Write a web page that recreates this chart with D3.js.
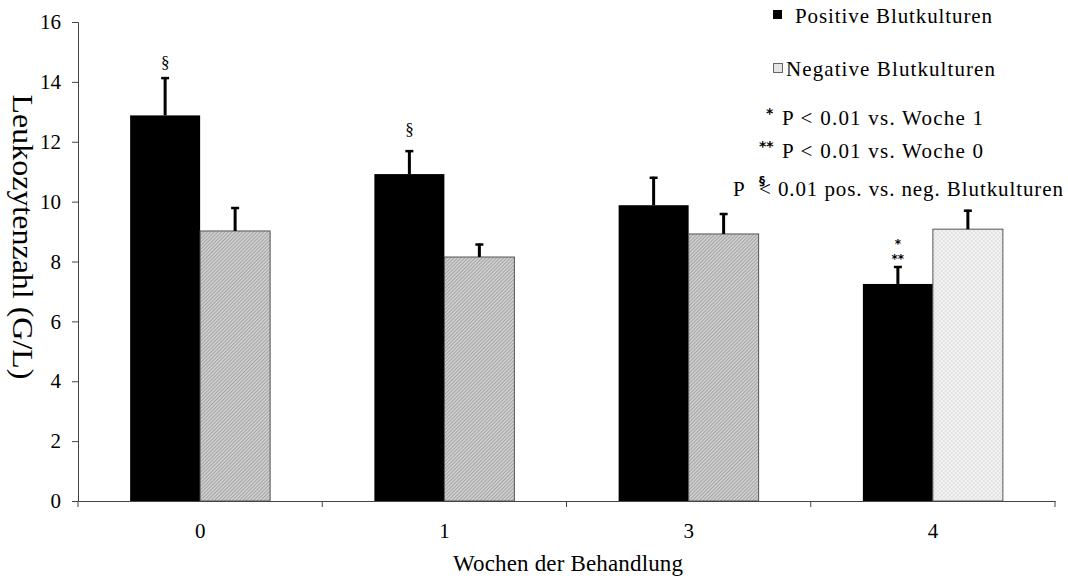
<!DOCTYPE html>
<html>
<head>
<meta charset="utf-8">
<script src="https://cdn.jsdelivr.net/npm/d3@7"></script>
<style>
  html, body { margin: 0; padding: 0; background: #fff; }
  svg { display: block; }
  text { font-family: "Liberation Serif", "Times New Roman", serif; fill: #000; }
</style>
</head>
<body>
<svg id="chart" width="1068" height="578"></svg>
<script>
// Weeks of treatment and leukocyte counts (G/L), mean and upper error
const weeks = ["0", "1", "3", "4"];
const positiveMean = [12.88, 10.92, 9.88, 7.25];
const positiveErr  = [1.28, 0.80, 0.95, 0.60];
const negativeMean = [9.02, 8.15, 8.92, 9.08];
const negativeErr  = [0.80, 0.45, 0.70, 0.65];
const yTicks = [0, 2, 4, 6, 8, 10, 12, 14, 16];
const seriesKeys = ["pos", "neg"];

const svg = d3.select("#chart");
const margin = { left: 78, right: 13, top: 22, bottom: 77 };
const W = 1068, H = 578;
const serif = '"Liberation Serif", "Times New Roman", serif';
const sans = '"DejaVu Sans", sans-serif';

const x = d3.scaleBand().domain(weeks).range([margin.left, W - margin.right]).padding(0);
const groupWidth = 140;
const xSub = d3.scaleBand().domain(seriesKeys)
  .range([(x.bandwidth() - groupWidth) / 2, (x.bandwidth() + groupWidth) / 2]).padding(0);
const y = d3.scaleLinear().domain([0, 16]).range([H - margin.bottom, margin.top]);

// fill patterns
const defs = svg.append("defs");
const hatch = defs.append("pattern").attr("id", "hatch")
  .attr("patternUnits", "userSpaceOnUse").attr("width", 2.5).attr("height", 2.5)
  .attr("patternTransform", "rotate(45)");
hatch.append("rect").attr("width", 2.5).attr("height", 2.5).attr("fill", "#d4d4d4");
hatch.append("rect").attr("width", 1).attr("height", 2.5).attr("fill", "#a0a0a0");

const dots = defs.append("pattern").attr("id", "dots")
  .attr("patternUnits", "userSpaceOnUse").attr("width", 4).attr("height", 4);
dots.append("rect").attr("width", 4).attr("height", 4).attr("fill", "#f3f3f3");
dots.append("rect").attr("width", 2).attr("height", 2).attr("fill", "#e2e2e2");
dots.append("rect").attr("x", 2).attr("y", 2).attr("width", 2).attr("height", 2).attr("fill", "#e2e2e2");

const rows = weeks.map((w, i) => ({
  week: w,
  values: [
    { key: "pos", mean: positiveMean[i], err: positiveErr[i] },
    { key: "neg", mean: negativeMean[i], err: negativeErr[i] }
  ]
}));

// bars
const groups = svg.append("g").selectAll("g").data(rows).join("g")
  .attr("transform", d => `translate(${x(d.week)},0)`);

groups.selectAll("rect.bar").data(d => d.values.map(v => ({ ...v, week: d.week }))).join("rect")
  .attr("class", "bar")
  .attr("x", d => xSub(d.key))
  .attr("width", xSub.bandwidth())
  .attr("y", d => y(d.mean))
  .attr("height", d => y(0) - y(d.mean))
  .attr("fill", d => d.key === "pos" ? "#000" : (d.week === "4" ? "url(#dots)" : "url(#hatch)"))
  .attr("stroke", d => d.key === "pos" ? "none" : "#555")
  .attr("stroke-width", 1);

// upper error bars
groups.selectAll("line.err").data(d => d.values).join("line")
  .attr("class", "err")
  .attr("x1", d => xSub(d.key) + xSub.bandwidth() / 2)
  .attr("x2", d => xSub(d.key) + xSub.bandwidth() / 2)
  .attr("y1", d => y(d.mean))
  .attr("y2", d => y(d.mean + d.err))
  .attr("stroke", "#000").attr("stroke-width", 3);
groups.selectAll("line.cap").data(d => d.values).join("line")
  .attr("class", "cap")
  .attr("x1", d => xSub(d.key) + xSub.bandwidth() / 2 - 4)
  .attr("x2", d => xSub(d.key) + xSub.bandwidth() / 2 + 4)
  .attr("y1", d => y(d.mean + d.err) + 1)
  .attr("y2", d => y(d.mean + d.err) + 1)
  .attr("stroke", "#000").attr("stroke-width", 2.5);

// y axis
const yAxis = svg.append("g").attr("transform", `translate(${margin.left},0)`)
  .call(d3.axisLeft(y).tickValues(yTicks).tickSize(6).tickPadding(11));
yAxis.attr("font-family", null);
yAxis.select(".domain").attr("stroke", "#444");
yAxis.selectAll(".tick line").attr("stroke", "#444");
yAxis.selectAll("text").style("font-size", "21px").style("font-family", serif).attr("fill", "#000");

// x axis: labels centred, tick marks at category boundaries
const xAxis = svg.append("g").attr("transform", `translate(0,${y(0)})`)
  .call(d3.axisBottom(x).tickSize(0).tickPadding(22).tickSizeOuter(0));
xAxis.attr("font-family", null);
xAxis.select(".domain").attr("stroke", "#444");
xAxis.selectAll("text").style("font-size", "21px").style("font-family", serif).attr("fill", "#000");
const bounds = weeks.map(w => x(w)).concat([x(weeks[weeks.length - 1]) + x.step()]);
xAxis.selectAll("line.bound").data(bounds).join("line")
  .attr("class", "bound")
  .attr("x1", d => d).attr("x2", d => d)
  .attr("y1", 0).attr("y2", 6)
  .attr("stroke", "#444");

// axis titles
svg.append("text")
  .attr("transform", `translate(13,${237}) rotate(90)`)
  .attr("text-anchor", "middle")
  .attr("textLength", 285).attr("lengthAdjust", "spacingAndGlyphs")
  .style("font-size", "29px")
  .text("Leukozytenzahl (G/L)");

svg.append("text")
  .attr("x", 453).attr("y", 571)
  .attr("textLength", 230).attr("lengthAdjust", "spacing")
  .style("font-size", "23px")
  .text("Wochen der Behandlung");

// significance marks above bars
const markX = (week, key) => x(week) + xSub(key) + xSub.bandwidth() / 2;
svg.append("text").attr("x", markX("0", "pos")).attr("y", 68).attr("text-anchor", "middle")
  .style("font-size", "17px").text("§");
svg.append("text").attr("x", markX("1", "pos")).attr("y", 135).attr("text-anchor", "middle")
  .style("font-size", "17px").text("§");
const stars = svg.append("text").attr("text-anchor", "middle")
  .style("font-size", "12px").style("font-family", sans).style("font-weight", "bold").style("fill", "#000");
stars.append("tspan").attr("x", markX("4", "pos")).attr("y", 248).text("*");
stars.append("tspan").attr("x", markX("4", "pos")).attr("y", 263).text("**");

// legend
const legend = svg.append("g");
legend.append("rect").attr("x", 773).attr("y", 10).attr("width", 9).attr("height", 9).attr("fill", "#000");
legend.append("text").attr("x", 795).attr("y", 23).attr("textLength", 197).attr("lengthAdjust", "spacing")
  .style("font-size", "21px").text("Positive Blutkulturen");
legend.append("rect").attr("x", 773.5).attr("y", 63.5).attr("width", 9).attr("height", 9)
  .attr("fill", "#e4e4e4").attr("stroke", "#666");
legend.append("text").attr("x", 786).attr("y", 76).attr("textLength", 209).attr("lengthAdjust", "spacing")
  .style("font-size", "21px").text("Negative Blutkulturen");

const l1 = legend.append("text").style("font-size", "21px");
l1.append("tspan").attr("x", 766).attr("y", 118)
  .style("font-size", "14px").style("font-family", sans).style("font-weight", "bold").text("*");
l1.append("tspan").attr("x", 782).attr("y", 125).attr("textLength", 201).attr("lengthAdjust", "spacing")
  .text("P < 0.01 vs. Woche 1");

const l2 = legend.append("text").style("font-size", "21px");
l2.append("tspan").attr("x", 759).attr("y", 151)
  .style("font-size", "14px").style("font-family", sans).style("font-weight", "bold").text("**");
l2.append("tspan").attr("x", 782).attr("y", 158).attr("textLength", 201).attr("lengthAdjust", "spacing")
  .text("P < 0.01 vs. Woche 0");

// third note: the section sign sits as a superscript over the "<" in one text element
const l3 = legend.append("text").style("font-size", "21px");
l3.append("tspan").attr("x", 733).attr("y", 196).text("P");
l3.append("tspan").attr("x", 759).attr("y", 185)
  .style("font-size", "12px").style("font-family", sans).style("font-weight", "bold").text("§");
l3.append("tspan").attr("x", 759).attr("y", 196).attr("textLength", 304).attr("lengthAdjust", "spacing")
  .text("< 0.01 pos. vs. neg. Blutkulturen");
</script>
</body>
</html>
